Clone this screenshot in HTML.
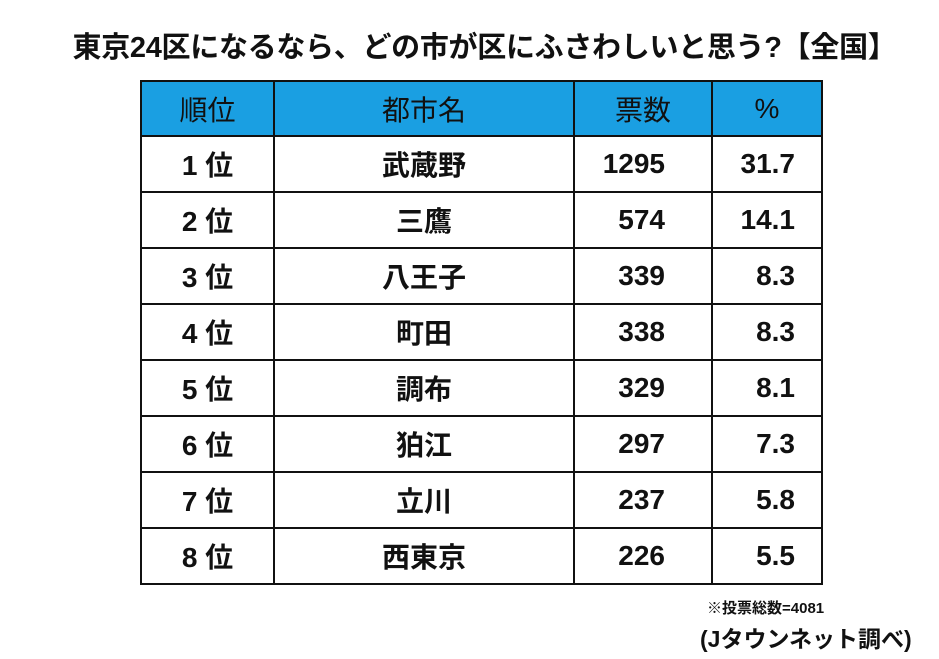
<!DOCTYPE html>
<html><head><meta charset="utf-8"><style>
body{margin:0;width:939px;height:659px;background:#fff;font-family:"Liberation Sans","Noto Sans CJK JP",sans-serif;font-weight:bold;color:#111;position:relative;overflow:hidden}
.t{position:absolute;left:15px;width:939px;top:24px;text-align:center;font-size:29px;letter-spacing:-0.3px;white-space:nowrap}
table{position:absolute;left:140px;top:80px;border-collapse:collapse}
td{border:2px solid #111;height:54px;padding:0;font-size:28px;text-align:center}
tr.h td{background:#1a9fe2;font-weight:normal;height:53px}
td.n{text-align:right;padding-right:46px}
td.p{text-align:right;padding-right:26px}
.f1{position:absolute;left:707px;top:597px;font-size:15px}
.f2{position:absolute;left:700px;top:620px;font-size:23px}
</style></head><body>
<div class="t">東京24区になるなら、どの市が区にふさわしいと思う?【全国】</div>
<table>
<colgroup><col style="width:133px"><col style="width:300px"><col style="width:138px"><col style="width:110px"></colgroup>
<tr class="h"><td>順位</td><td>都市名</td><td>票数</td><td>%</td></tr>
<tr><td>1 位</td><td>武蔵野</td><td class="n">1295</td><td class="p">31.7</td></tr>
<tr><td>2 位</td><td>三鷹</td><td class="n">574</td><td class="p">14.1</td></tr>
<tr><td>3 位</td><td>八王子</td><td class="n">339</td><td class="p">8.3</td></tr>
<tr><td>4 位</td><td>町田</td><td class="n">338</td><td class="p">8.3</td></tr>
<tr><td>5 位</td><td>調布</td><td class="n">329</td><td class="p">8.1</td></tr>
<tr><td>6 位</td><td>狛江</td><td class="n">297</td><td class="p">7.3</td></tr>
<tr><td>7 位</td><td>立川</td><td class="n">237</td><td class="p">5.8</td></tr>
<tr><td>8 位</td><td>西東京</td><td class="n">226</td><td class="p">5.5</td></tr>
</table>
<div class="f1">※投票総数=4081</div>
<div class="f2">(Jタウンネット調べ)</div>
</body></html>
